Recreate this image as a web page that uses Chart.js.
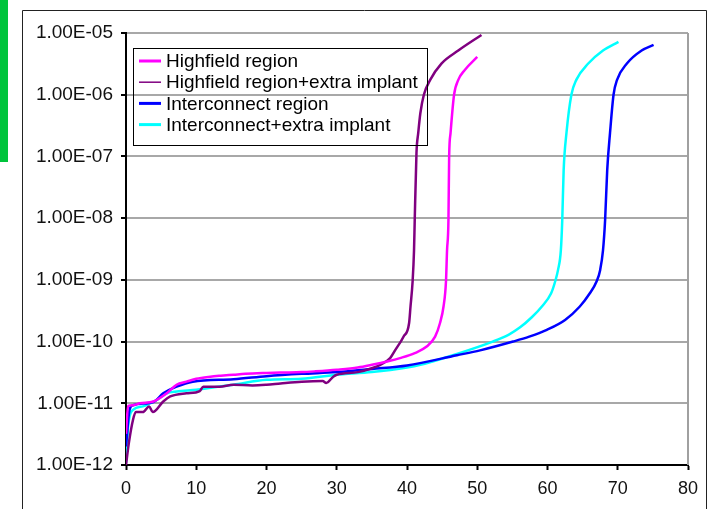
<!DOCTYPE html>
<html>
<head>
<meta charset="utf-8">
<script src="https://cdn.jsdelivr.net/npm/chart.js@4"></script>
<style>
  html, body { margin: 0; padding: 0; background: #fff; }
  #wrap { width: 710px; height: 509px; }
</style>
</head>
<body>
<div id="wrap"><canvas id="chart" width="710" height="509"></canvas></div>
<script>
// tick labels
const xTicks = [0, 10, 20, 30, 40, 50, 60, 70, 80];
const yTickValues = [1e-12, 1e-11, 1e-10, 1e-9, 1e-8, 1e-7, 1e-6, 1e-5];
const yTickLabels = ['1.00E-12', '1.00E-11', '1.00E-10', '1.00E-09', '1.00E-08', '1.00E-07', '1.00E-06', '1.00E-05'];

const seriesNames = ['Highfield region', 'Highfield region+extra implant', 'Interconnect region', 'Interconnect+extra implant'];

// Highfield region
const hfVoltage = [0, 0.3, 1, 2, 3.9, 5.8, 7.2, 8.6, 10, 12, 13.5, 15.3, 17, 20, 22, 25, 27, 30, 33, 35, 37.3, 39.0, 41.1, 42.8, 44.0, 44.7, 45.2, 45.55, 45.7, 45.9, 46.0, 46.2, 46.7, 47.3, 48.2, 50.0];
const hfCurrent = [3.2e-12, 9.1e-12, 9.3e-12, 1.0e-11, 1.07e-11, 1.45e-11, 2.0e-11, 2.24e-11, 2.5e-11, 2.7e-11, 2.8e-11, 2.9e-11, 3.0e-11, 3.1e-11, 3.15e-11, 3.2e-11, 3.3e-11, 3.5e-11, 3.8e-11, 4.2e-11, 4.8e-11, 5.4e-11, 6.5e-11, 8.3e-11, 1.2e-10, 2.0e-10, 3.7e-10, 9.5e-10, 3.0e-9, 9.3e-9, 1.0e-7, 2.4e-7, 1.0e-6, 1.74e-6, 2.5e-6, 4.1e-6];

// Highfield region + extra implant
const hfxVoltage = [0, 0.4, 1, 1.4, 2.4, 3.3, 3.8, 5.3, 6.3, 8.6, 10.5, 11, 13.3, 15.3, 18, 20, 22, 25, 28, 28.5, 29.5, 30, 33, 35, 36.2, 37.6, 38.3, 39.5, 40.3, 40.5, 40.8, 41.0, 41.1, 41.35, 41.6, 41.9, 42.4, 43.3, 44.9, 47.3, 50.6];
const hfxCurrent = [1.0e-12, 2.24e-12, 5.4e-12, 7.2e-12, 7.2e-12, 8.9e-12, 7.2e-12, 1.07e-11, 1.29e-11, 1.45e-11, 1.58e-11, 1.86e-11, 1.86e-11, 2.0e-11, 1.95e-11, 2.0e-11, 2.1e-11, 2.24e-11, 2.3e-11, 2.14e-11, 2.7e-11, 2.9e-11, 3.2e-11, 3.7e-11, 4.2e-11, 5.4e-11, 7.2e-11, 1.2e-10, 2.0e-10, 3.7e-10, 9.5e-10, 3.0e-9, 9.3e-9, 1.15e-7, 2.4e-7, 5.0e-7, 1.0e-6, 1.74e-6, 3.2e-6, 5.2e-6, 9.3e-6];

// Interconnect region
const icVoltage = [0, 0.5, 1, 3.9, 5.3, 7.2, 9.5, 15.3, 20, 25, 30, 35, 40, 47.1, 50.4, 55.1, 57.4, 59.9, 62.5, 64.6, 66.0, 67.0, 67.5, 67.9, 68.2, 68.5, 68.9, 69.4, 69.9, 71.3, 73.4, 75.1];
const icCurrent = [2.0e-12, 7.8e-12, 9.3e-12, 1.05e-11, 1.45e-11, 1.86e-11, 2.24e-11, 2.45e-11, 2.75e-11, 3.0e-11, 3.2e-11, 3.6e-11, 4.1e-11, 6.0e-11, 7.2e-11, 1.0e-10, 1.2e-10, 1.55e-10, 2.24e-10, 3.7e-10, 6.0e-10, 9.5e-10, 1.45e-9, 3.0e-9, 9.3e-9, 6.0e-8, 2.4e-7, 1.0e-6, 1.74e-6, 3.2e-6, 5.2e-6, 6.4e-6];

// Interconnect + extra implant
const icxVoltage = [0, 0.3, 1, 2.4, 4.3, 5.8, 7.2, 10, 15.3, 20, 25, 30, 35, 40, 41.9, 46.5, 52.2, 54.5, 56.1, 57.8, 59.2, 60.5, 61.1, 61.5, 61.9, 62.1, 62.3, 62.7, 63.4, 64.1, 65.8, 67.9, 70.1];
const icxCurrent = [1.07e-12, 4.2e-12, 7.8e-12, 8.9e-12, 1.12e-11, 1.45e-11, 1.55e-11, 1.66e-11, 2.0e-11, 2.4e-11, 2.5e-11, 2.9e-11, 3.2e-11, 3.8e-11, 4.2e-11, 6.0e-11, 1.0e-10, 1.3e-10, 1.7e-10, 2.5e-10, 3.7e-10, 6.0e-10, 9.5e-10, 1.45e-9, 3.0e-9, 9.3e-9, 6.0e-8, 2.4e-7, 1.0e-6, 1.74e-6, 3.2e-6, 5.2e-6, 7.2e-6];

const FONT = "'Liberation Sans', Arial, sans-serif";

function points(xs, ys) {
  return xs.map((x, i) => ({ x: x, y: ys[i] }));
}

function line(label, xs, ys, color, legendWidth) {
  return {
    label: label,
    data: points(xs, ys),
    borderColor: color,
    backgroundColor: color,
    borderWidth: 2.5,
    pointRadius: 0,
    showLine: true,
    fill: false,
    cubicInterpolationMode: 'monotone',
    legendWidth: legendWidth
  };
}

// page frame + green marker
const framePlugin = {
  id: 'frame',
  beforeDraw(chart) {
    const ctx = chart.ctx;
    ctx.save();
    ctx.fillStyle = '#fff';
    ctx.fillRect(0, 0, chart.width, chart.height);
    ctx.fillStyle = '#00c43c';
    ctx.fillRect(0, 0, 8, 162);
    ctx.strokeStyle = '#222';
    ctx.lineWidth = 1;
    ctx.beginPath();
    ctx.moveTo(22.5, chart.height);
    ctx.lineTo(22.5, 10.5);
    ctx.lineTo(706.5, 10.5);
    ctx.lineTo(706.5, chart.height);
    ctx.stroke();
    ctx.restore();
  },
  afterDraw(chart) {
    const a = chart.chartArea;
    const ctx = chart.ctx;
    ctx.save();
    ctx.strokeStyle = '#a0a0a0';
    ctx.lineWidth = 2;
    ctx.beginPath();
    ctx.moveTo(a.right, a.top);
    ctx.lineTo(a.right, a.bottom);
    ctx.stroke();
    ctx.restore();
  }
};

// boxed legend inside the plot
const legendPlugin = {
  id: 'boxLegend',
  afterDatasetsDraw(chart) {
    const ctx = chart.ctx;
    ctx.save();
    ctx.strokeStyle = '#000';
    ctx.lineWidth = 1;
    ctx.strokeRect(133.5, 48.5, 294, 97);
    ctx.font = '19px ' + FONT;
    ctx.textBaseline = 'middle';
    ctx.fillStyle = '#000';
    chart.data.datasets.forEach((ds, i) => {
      const y = 61 + i * 21.2;
      ctx.strokeStyle = ds.borderColor;
      ctx.lineWidth = ds.legendWidth;
      ctx.beginPath();
      ctx.moveTo(139, y);
      ctx.lineTo(161, y);
      ctx.stroke();
      ctx.fillText(ds.label, 166, y + 1);
    });
    ctx.restore();
  }
};

new Chart(document.getElementById('chart'), {
  type: 'scatter',
  data: {
    datasets: [
      line(seriesNames[0], hfVoltage, hfCurrent, '#ff00ff', 3),
      line(seriesNames[1], hfxVoltage, hfxCurrent, '#800080', 1.5),
      line(seriesNames[2], icVoltage, icCurrent, '#0000ff', 3),
      line(seriesNames[3], icxVoltage, icxCurrent, '#00ffff', 3)
    ]
  },
  options: {
    responsive: false,
    animation: false,
    layout: { padding: { left: 0, top: 33, right: 22, bottom: 0 } },
    plugins: {
      legend: { display: false },
      tooltip: { enabled: false }
    },
    scales: {
      x: {
        type: 'linear',
        min: 0,
        max: 80,
        afterBuildTicks(scale) {
          scale.ticks = xTicks.map(v => ({ value: v }));
        },
        afterFit(scale) { scale.height = 44; },
        border: { color: '#000', width: 2 },
        grid: { drawOnChartArea: false, drawTicks: true, tickLength: 5, tickColor: '#000', tickWidth: 2 },
        ticks: { color: '#111', font: { family: FONT, size: 18 }, padding: 8, maxRotation: 0 }
      },
      y: {
        type: 'logarithmic',
        min: 1e-12,
        max: 1e-5,
        afterBuildTicks(scale) {
          scale.ticks = yTickValues.map(v => ({ value: v }));
        },
        afterFit(scale) { scale.width = 126; },
        border: { color: '#000', width: 2 },
        grid: { color: '#a8a8a8', lineWidth: 2, drawTicks: true, tickLength: 5, tickColor: '#000', tickWidth: 2 },
        ticks: {
          color: '#111',
          font: { family: FONT, size: 19 },
          padding: 8,
          callback(value) {
            const i = yTickValues.findIndex(v => Math.abs(Math.log10(v) - Math.log10(value)) < 1e-6);
            return i >= 0 ? yTickLabels[i] : '';
          }
        }
      }
    }
  },
  plugins: [framePlugin, legendPlugin]
});
</script>
</body>
</html>
